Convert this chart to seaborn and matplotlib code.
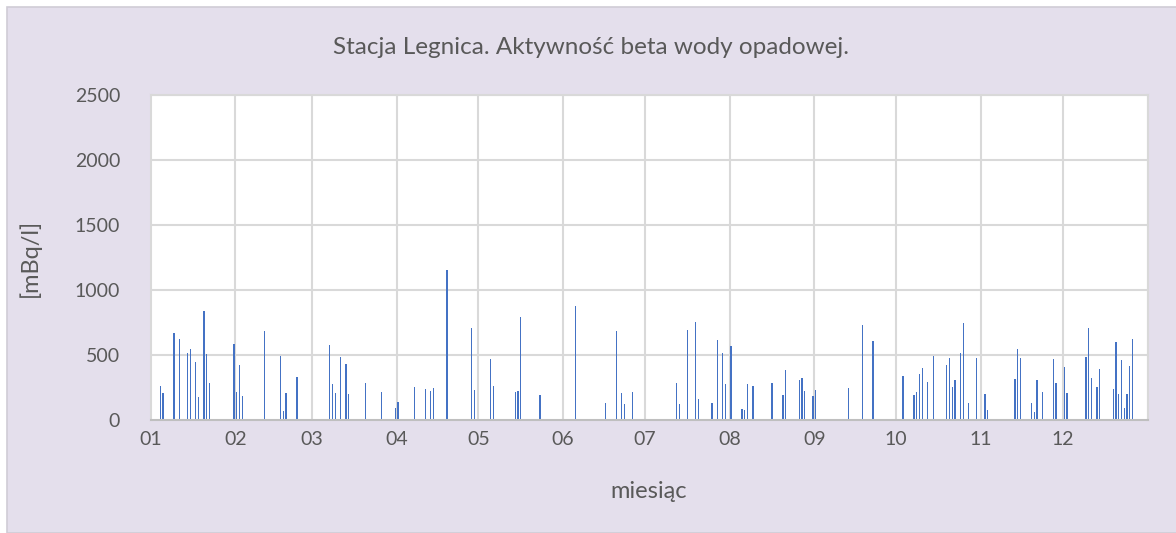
import numpy as np
import pandas as pd
import matplotlib
matplotlib.use("Agg")
import matplotlib.pyplot as plt
from matplotlib.patches import Rectangle
import seaborn as sns

# ---- data (day of year, 0-based; value in mBq/l) ----
days = [3, 4, 8, 10, 13, 14, 16, 17, 19, 20, 21, 30, 31, 32, 33, 41, 47, 48, 49, 53,
        65, 66, 67, 69, 71, 72, 78, 84, 89, 90, 96, 100, 102, 103, 108, 117, 118,
        124, 125, 133, 134, 135, 142, 155, 166, 170, 172, 173, 176, 192, 193, 196,
        199, 200, 205, 207, 209, 210, 212, 216, 217, 218, 220, 227, 231, 232, 237,
        238, 239, 242, 243, 255, 260, 264, 275, 279, 280, 281, 282, 284, 286, 291,
        292, 293, 294, 296, 297, 299, 302, 305, 306, 316, 317, 318, 322, 323, 324,
        326, 330, 331, 334, 335, 342, 343, 344, 346, 347, 352, 353, 354, 355, 356,
        357, 358, 359]
values = [261, 205, 667, 621, 513, 541, 446, 175, 834, 508, 282, 580, 213, 421, 185,
          682, 492, 67, 203, 331, 572, 272, 205, 485, 428, 198, 282, 213, 88, 134,
          252, 236, 218, 246, 1155, 705, 231, 467, 259, 215, 218, 788, 188, 875, 128,
          682, 205, 121, 213, 282, 118, 690, 754, 157, 131, 613, 511, 275, 567, 80,
          75, 272, 262, 282, 188, 385, 305, 321, 221, 182, 226, 244, 728, 605, 334,
          188, 213, 351, 398, 287, 490, 421, 472, 252, 308, 513, 741, 126, 472, 195,
          72, 316, 541, 472, 126, 57, 305, 213, 467, 282, 405, 205, 482, 705, 321,
          252, 393, 239, 595, 195, 459, 90, 195, 413, 621]
month_labels = ["01", "02", "03", "04", "05", "06", "07", "08", "09", "10", "11", "12"]
month_lengths = [31, 28, 31, 30, 31, 30, 31, 31, 30, 31, 30, 31]
y_ticks = [0, 500, 1000, 1500, 2000, 2500]

n_days = sum(month_lengths)
full = np.zeros(n_days)
full[days] = values
df = pd.DataFrame({"day": np.arange(n_days), "value": full})

sns.set_theme(style="white")
plt.rcParams['font.family'] = ['Lato', 'DejaVu Sans']

W, H = 1176, 533
fig = plt.figure(figsize=(W / 100, H / 100), dpi=100, facecolor="white")
# chart area background
bg = Rectangle((7 / W, 0), 1.0, 1 - 7 / H, transform=fig.transFigure,
               facecolor="#E4DFEC", edgecolor="#D0CCD6", linewidth=1.2, zorder=-10)
fig.patches.append(bg)

ax = fig.add_axes([150.8 / W, 1 - 419.7 / H, (1147.5 - 150.8) / W, (419.7 - 94.9) / H])
ax.set_zorder(5)
ax.set_facecolor("white")

sns.barplot(data=df, x="day", y="value", color="#4472C4", width=0.45,
            errorbar=None, saturation=1, ax=ax, zorder=3, linewidth=0)

starts = np.concatenate([[0], np.cumsum(month_lengths)]) - 0.5
ax.set_xlim(-0.5, n_days - 0.5)
ax.set_ylim(0, 2500)
ax.set_yticks(y_ticks)
ax.set_yticklabels([str(v) for v in y_ticks], fontsize=14, color="#595959")
ax.set_xticks(starts[:-1])
ax.set_xticklabels(month_labels, fontsize=14, color="#595959")
ax.tick_params(axis="both", length=0)
ax.tick_params(axis="y", pad=22)
ax.tick_params(axis="x", pad=8)

for y in y_ticks[1:]:
    ax.axhline(y, color="#D9D9D9", linewidth=1.5, zorder=1)
for x in starts[1:]:
    ax.axvline(x, color="#D9D9D9", linewidth=1.5, zorder=1)

for s in ["top", "right", "left"]:
    ax.spines[s].set_visible(True)
    ax.spines[s].set_color("#D9D9D9")
    ax.spines[s].set_linewidth(1.5)
ax.spines["bottom"].set_color("#BFBFBF")
ax.spines["bottom"].set_linewidth(1.5)
ax.spines["bottom"].set_zorder(4)

ax.set_xlabel("")
ax.set_ylabel("")
fig.text(591 / W, 1 - 47 / H, "Stacja Legnica. Aktywność beta wody opadowej.",
         ha="center", va="center", fontsize=17.5, color="#595959")
fig.text(30 / W, 1 - 258 / H, "[mBq/l]", rotation=90, ha="center", va="center",
         fontsize=17, color="#595959")
fig.text(649 / W, 1 - 492 / H, "miesiąc", ha="center", va="center",
         fontsize=17, color="#595959")

fig.savefig("out.png", dpi=100, facecolor=fig.get_facecolor())
